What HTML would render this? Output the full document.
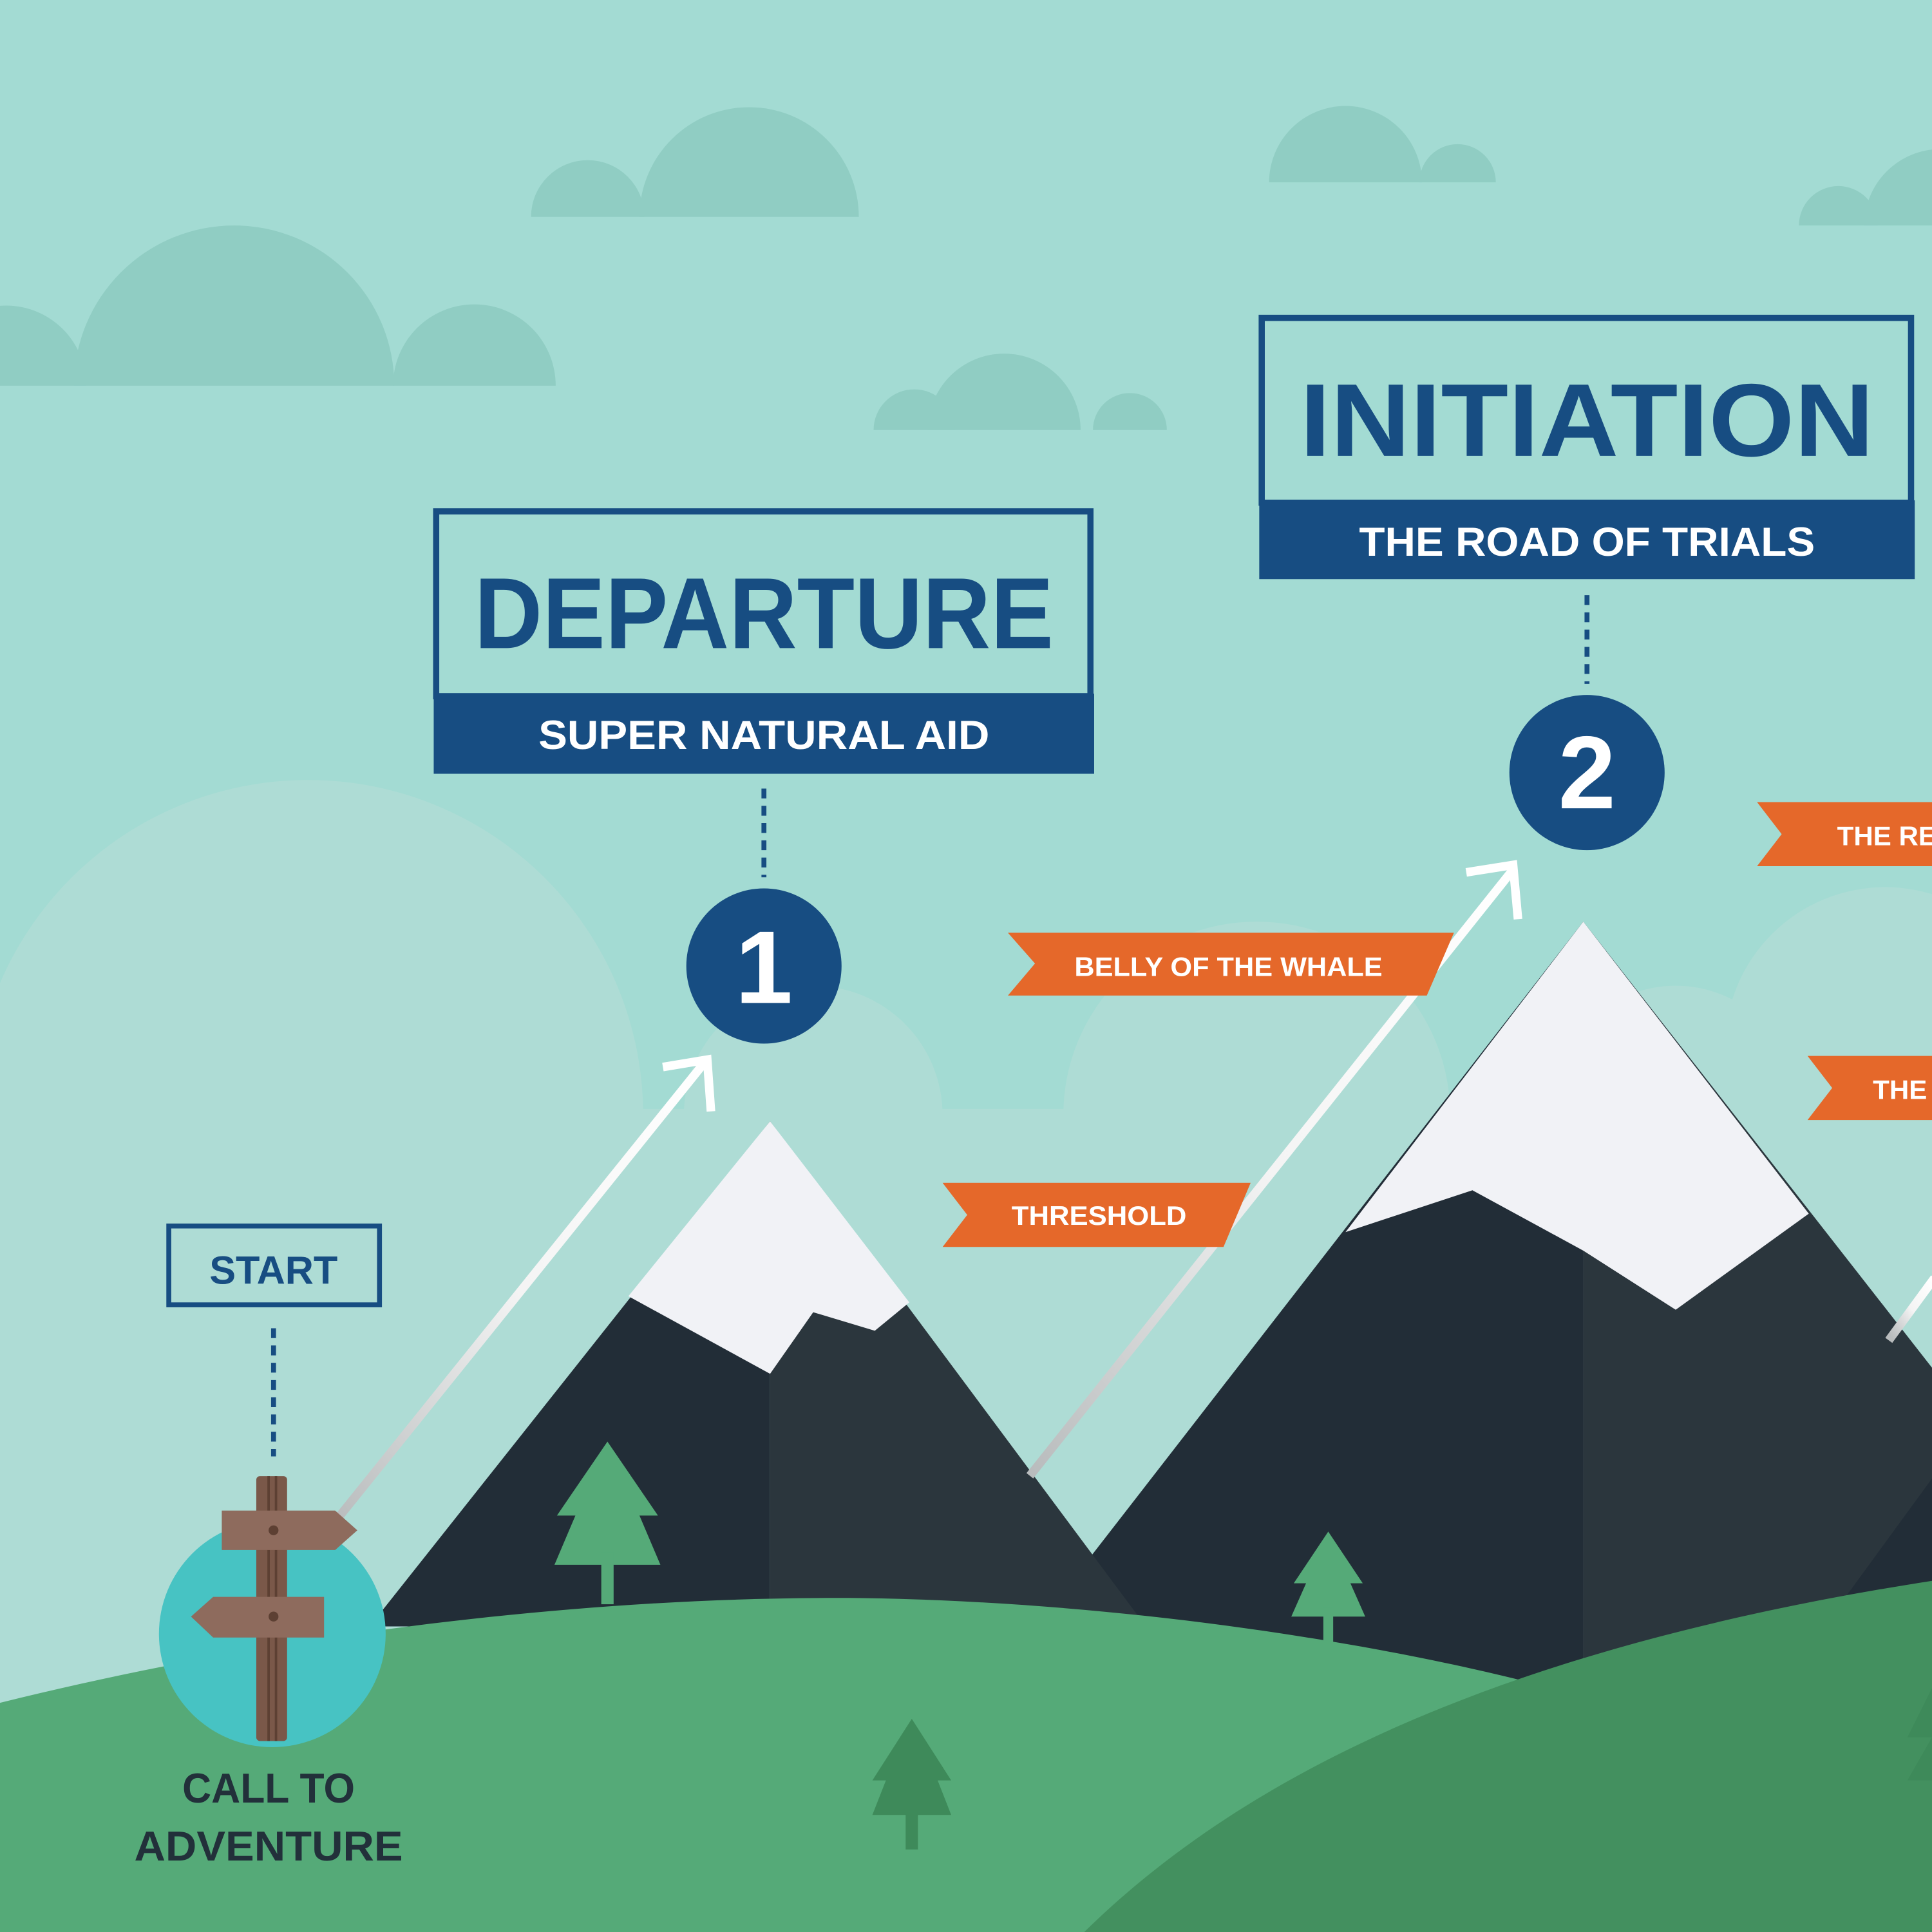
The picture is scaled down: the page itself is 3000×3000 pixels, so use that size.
<!DOCTYPE html>
<html><head><meta charset="utf-8"><style>
html,body{margin:0;padding:0;width:3000px;height:3000px;overflow:hidden;background:#a3dbd3}
svg{display:block}
text{font-family:"Liberation Sans",sans-serif;font-weight:bold}
</style></head><body>
<svg width="3000" height="3000" viewBox="0 0 1568 1568" xmlns="http://www.w3.org/2000/svg">
<defs>
<linearGradient id="ag" x1="0" y1="1" x2="1" y2="0"><stop offset="0" stop-color="#b9bcbd"/><stop offset="0.5" stop-color="#f4f4f4"/><stop offset="1" stop-color="#ffffff"/></linearGradient>
<clipPath id="c1"><rect x="0" y="0" width="1568" height="313"/></clipPath>
<clipPath id="c2"><rect x="0" y="0" width="1568" height="176"/></clipPath>
<clipPath id="c3"><rect x="0" y="0" width="1568" height="148"/></clipPath>
<clipPath id="c4"><rect x="0" y="0" width="1568" height="183"/></clipPath>
<clipPath id="c5"><rect x="0" y="0" width="1568" height="349"/></clipPath>
</defs>
<rect width="1568" height="1568" fill="#a3dbd3"/>
<g fill="#90cdc3">
<g clip-path="url(#c1)"><circle cx="190" cy="313" r="130"/><circle cx="385" cy="313" r="66"/><circle cx="5" cy="313" r="65"/></g>
<g clip-path="url(#c2)"><circle cx="608" cy="176" r="89"/><circle cx="477" cy="176" r="46"/></g>
<g clip-path="url(#c3)"><circle cx="1092" cy="148" r="62"/><circle cx="1183" cy="148" r="31"/></g>
<g clip-path="url(#c4)"><circle cx="1492" cy="183" r="32"/><circle cx="1575" cy="183" r="62"/></g>
<g clip-path="url(#c5)"><circle cx="815" cy="349" r="62"/><circle cx="742" cy="349" r="33"/><circle cx="917" cy="349" r="30"/></g>
</g>
<g fill="#aedcd5">
<circle cx="250" cy="905" r="272"/>
<circle cx="660" cy="905" r="105"/>
<circle cx="1020" cy="905" r="157"/>
<circle cx="1360" cy="900" r="100"/>
<circle cx="1530" cy="850" r="130"/>
<rect x="0" y="900" width="1568" height="668"/>
</g>
<!-- mountain 2 -->
<polygon points="1285,748 880,1270 880,1400 1285,1400" fill="#222d37"/>
<polygon points="1285,748 1285,1400 1568,1400 1568,1110" fill="#2b363d"/>
<polygon points="1285,748 1092,1000 1195,966 1285,1015 1360,1063 1468,985" fill="#f1f2f6"/>
<polygon points="1568,1200 1495,1300 1568,1300" fill="#222d37"/>
<!-- mountain 1 -->
<polygon points="625,910 300,1320 625,1320" fill="#222d37"/>
<polygon points="625,910 625,1320 930,1320" fill="#2b363d"/>
<polygon points="625,910 510,1052 625,1115 660,1065 710,1080 738,1057" fill="#f1f2f6"/>
<!-- trees in mountains -->
<g fill="#55aa78">
<polygon points="493,1170 452,1230 467,1230 450,1270 536,1270 519,1230 534,1230"/><rect x="488" y="1260" width="10" height="42"/>
<polygon points="1078,1243 1050,1285 1060,1285 1048,1312 1108,1312 1096,1285 1106,1285"/><rect x="1074" y="1305" width="8" height="28"/>
</g>
<!-- arrows -->
<g stroke="url(#ag)" stroke-width="7" fill="none" stroke-linecap="square">
<line x1="272" y1="1235" x2="572" y2="862"/>
<line x1="838" y1="1195" x2="1227" y2="707"/>
<line x1="1535" y1="1085" x2="1568" y2="1040"/>
</g>
<g stroke="#ffffff" stroke-width="7" fill="none">
<polyline points="538,866 574,860 577,902"/>
<polyline points="1190,708 1228,702 1232,746"/>
</g>
<!-- hills -->
<path d="M0,1382 C250,1320 500,1295 700,1297 C900,1300 1100,1330 1240,1365 L1240,1568 L0,1568 Z" fill="#55aa78"/>
<path d="M880,1568 C1000,1450 1200,1340 1568,1283 L1568,1568 Z" fill="#43905f"/>
<g fill="#3e8a5a"><polygon points="740,1395 708,1445 719,1445 708,1473 772,1473 761,1445 772,1445"/><rect x="735" y="1465" width="10" height="36"/>
<polygon points="1568,1370 1548,1410 1568,1410"/><polygon points="1568,1410 1548,1445 1568,1445"/></g>
<!-- signpost -->
<circle cx="221" cy="1326" r="92" fill="#47c3c3"/>
<rect x="208" y="1198" width="25" height="215" rx="3" fill="#7a5849"/>
<rect x="217" y="1198" width="2" height="215" fill="#5d4033"/><rect x="223" y="1198" width="2" height="215" fill="#5d4033"/>
<polygon points="180,1226 272,1226 290,1242 272,1258 180,1258" fill="#8e6b5d"/>
<polygon points="173,1296 263,1296 263,1329 173,1329 155,1312" fill="#8e6b5d"/>
<circle cx="222" cy="1242" r="4" fill="#5d4033"/><circle cx="222" cy="1312" r="4" fill="#5d4033"/>
<!-- dotted lines -->
<g stroke="#174d82" stroke-width="4" stroke-dasharray="8,6">
<line x1="222" y1="1078" x2="222" y2="1182"/>
<line x1="620" y1="640" x2="620" y2="712"/>
<line x1="1288" y1="483" x2="1288" y2="555"/>
</g>
<!-- START -->
<rect x="137" y="995" width="171" height="64" fill="none" stroke="#174d82" stroke-width="4"/>
<text x="222" y="1042" font-size="32" fill="#174d82" text-anchor="middle" textLength="104">START</text>
<!-- DEPARTURE -->
<rect x="354" y="415" width="531" height="150" fill="none" stroke="#174d82" stroke-width="5"/>
<rect x="352" y="563" width="536" height="65" fill="#174d82"/>
<text x="620" y="526" font-size="82" fill="#174d82" text-anchor="middle" textLength="470" lengthAdjust="spacingAndGlyphs">DEPARTURE</text>
<text x="620" y="608" font-size="33" fill="#ffffff" text-anchor="middle" textLength="366" lengthAdjust="spacingAndGlyphs">SUPER NATURAL AID</text>
<circle cx="620" cy="784" r="63" fill="#174d82"/>
<text x="620" y="814" font-size="84" fill="#ffffff" text-anchor="middle">1</text>
<!-- INITIATION -->
<rect x="1024" y="258" width="527" height="150" fill="none" stroke="#174d82" stroke-width="5"/>
<rect x="1022" y="406" width="532" height="64" fill="#174d82"/>
<text x="1288" y="370" font-size="84" fill="#174d82" text-anchor="middle" textLength="466" lengthAdjust="spacingAndGlyphs">INITIATION</text>
<text x="1288" y="451" font-size="33" fill="#ffffff" text-anchor="middle" textLength="370" lengthAdjust="spacingAndGlyphs">THE ROAD OF TRIALS</text>
<circle cx="1288" cy="627" r="63" fill="#174d82"/>
<text x="1288" y="656" font-size="84" fill="#ffffff" text-anchor="middle">2</text>
<!-- ribbons -->
<g fill="#e5682a">
<polygon points="765,960 1015,960 993,1012 765,1012 785,986"/>
<polygon points="818,757 1180,757 1158,808 818,808 840,782"/>
<polygon points="1426,651 1568,651 1568,703 1426,703 1446,677"/>
<polygon points="1467,857 1568,857 1568,909 1467,909 1487,883"/>
</g>
<g fill="#ffffff" font-size="22">
<text x="821" y="994" textLength="142" lengthAdjust="spacingAndGlyphs">THRESHOLD</text>
<text x="872" y="792" textLength="250" lengthAdjust="spacingAndGlyphs">BELLY OF THE WHALE</text>
<text x="1491" y="686">THE RE</text>
<text x="1520" y="892">THE</text>
</g>
<!-- call to adventure -->
<g fill="#22303a" font-size="34" text-anchor="middle">
<text x="218" y="1463" textLength="140" lengthAdjust="spacingAndGlyphs">CALL TO</text>
<text x="218" y="1510" textLength="218" lengthAdjust="spacingAndGlyphs">ADVENTURE</text>
</g>
</svg>
</body></html>
